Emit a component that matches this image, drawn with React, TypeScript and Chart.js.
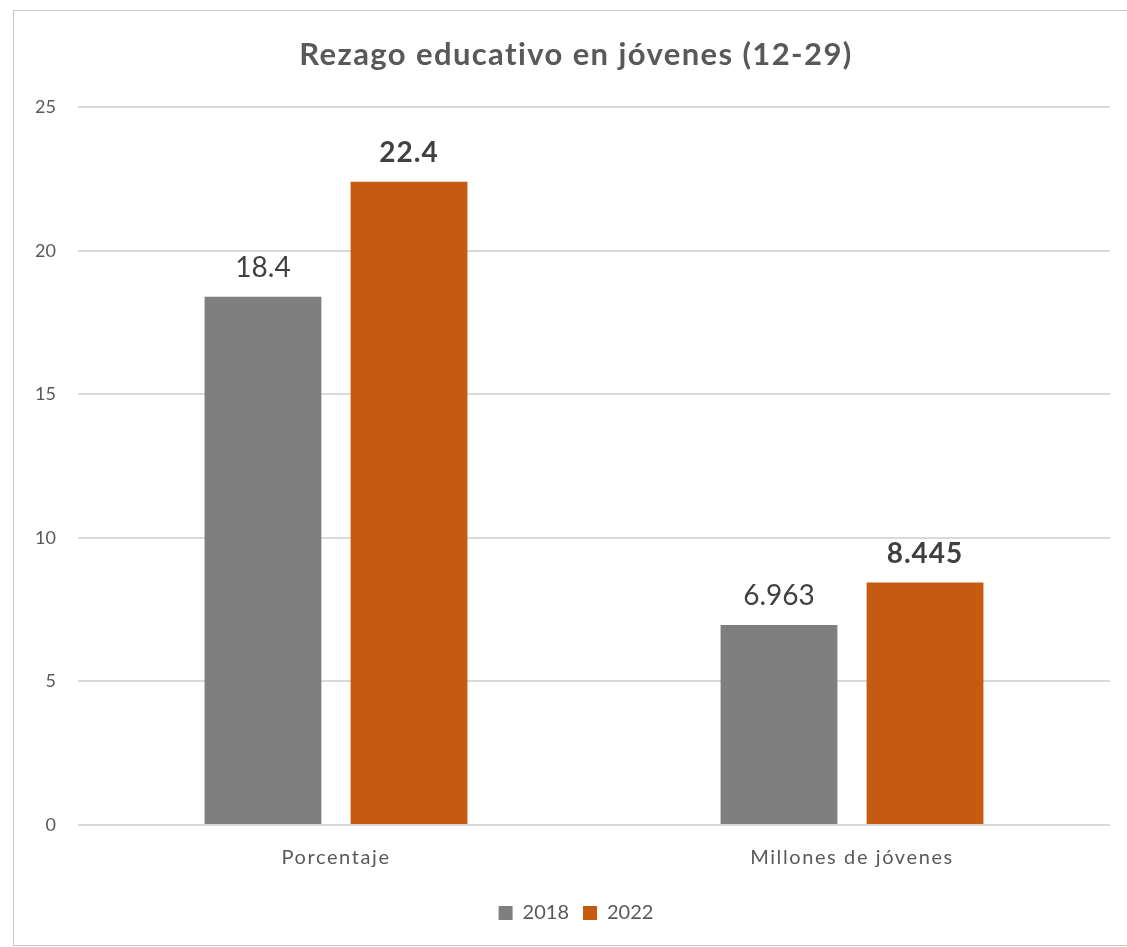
import React, { useEffect, useRef } from "react";
import { Chart, registerables } from "chart.js";

Chart.register(...registerables);

const categories = ["Porcentaje", "Millones de jóvenes"];
const seriesNames = ["2018", "2022"];
const values2018 = [18.4, 6.963];
const values2022 = [22.4, 8.445];
const labels2018 = ["18.4", "6.963"];
const labels2022 = ["22.4", "8.445"];
const yTicks = [0, 5, 10, 15, 20, 25];

const FONT = "Lato, 'Open Sans', 'DejaVu Sans', sans-serif";

function withSpacing(obj: any, method: string, spacing: string) {
  if (!obj || obj["__sp_" + method]) return;
  const orig = obj[method].bind(obj);
  obj[method] = (...args: any[]) => {
    const ctx = obj.ctx || obj.chart?.ctx;
    const prev = ctx.letterSpacing;
    ctx.letterSpacing = spacing;
    const r = orig(...args);
    ctx.letterSpacing = prev;
    return r;
  };
  obj["__sp_" + method] = true;
}

const spacingPlugin = {
  id: "spacing",
  beforeDraw(chart: any) {
    withSpacing(chart.scales.x, "drawLabels", "1.6px");
    withSpacing(chart.titleBlock, "draw", "1.4px");
  },
};

const valueLabelPlugin = {
  id: "valueLabels",
  afterDatasetsDraw(chart: any) {
    const ctx = chart.ctx;
    const texts = [labels2018, labels2022];
    chart.data.datasets.forEach((ds: any, di: number) => {
      const meta = chart.getDatasetMeta(di);
      meta.data.forEach((bar: any, i: number) => {
        ctx.save();
        ctx.fillStyle = "#404040";
        ctx.font = `${di === 1 ? "bold " : ""}28px ${FONT}`;
        ctx.letterSpacing = di === 1 ? "1px" : "0px";
        ctx.textAlign = "center";
        ctx.textBaseline = "alphabetic";
        ctx.fillText(texts[di][i], bar.x, bar.y - 20);
        ctx.restore();
      });
    });
  },
};

export default function App() {
  const ref = useRef<HTMLCanvasElement>(null);
  useEffect(() => {
    if (!ref.current) return;
    const chart = new Chart(ref.current, {
      type: "bar",
      data: {
        labels: categories,
        datasets: [
          {
            label: seriesNames[0],
            data: values2018,
            backgroundColor: "#7f7f7f",
            categoryPercentage: 0.566,
            barPercentage: 0.8,
          },
          {
            label: seriesNames[1],
            data: values2022,
            backgroundColor: "#c55a11",
            categoryPercentage: 0.566,
            barPercentage: 0.8,
          },
        ],
      },
      options: {
        responsive: false,
        animation: false,
        devicePixelRatio: 1,
        layout: { padding: { left: 0, right: 0, top: 0, bottom: 12 } },
        plugins: {
          title: {
            display: true,
            text: "Rezago educativo en jóvenes (12-29)",
            color: "#595959",
            font: { family: FONT, size: 31, weight: "bold" },
            padding: { top: 25, bottom: 34 },
          },
          legend: {
            position: "bottom",
            labels: {
              color: "#595959",
              font: { family: FONT, size: 20 },
              boxWidth: 14,
              boxHeight: 14,
              padding: 14,
            },
          },
          tooltip: { enabled: false },
        },
        scales: {
          x: {
            grid: { display: false, drawTicks: false },
            border: { display: false },
            ticks: {
              color: "#595959",
              font: { family: FONT, size: 20 },
              padding: 21,
            },
            afterFit: (scale: any) => {
              scale.height = 64;
            },
          },
          y: {
            min: 0,
            max: 25,
            afterBuildTicks: (scale: any) => {
              scale.ticks = yTicks.map((v) => ({ value: v }));
            },
            grid: { color: "#d9d9d9", lineWidth: 2, drawTicks: false },
            border: { display: false },
            ticks: {
              color: "#595959",
              font: { family: FONT, size: 18 },
              padding: 22,
            },
            afterFit: (scale: any) => {
              scale.width = 64;
            },
          },
          yRight: {
            position: "right",
            min: 0,
            max: 25,
            grid: { display: false, drawTicks: false },
            border: { display: false },
            ticks: { display: false },
            afterFit: (scale: any) => {
              scale.width = 28;
            },
          },
        },
      },
      plugins: [spacingPlugin, valueLabelPlugin],
    });
    return () => chart.destroy();
  }, []);

  return (
    <div
      style={{
        position: "absolute",
        left: 13,
        top: 10,
        width: 1126,
        height: 934,
        border: "1px solid #c8c8c8",
        background: "#fff",
      }}
    >
      <canvas ref={ref} width={1124} height={934} style={{ display: "block" }} />
    </div>
  );
}
